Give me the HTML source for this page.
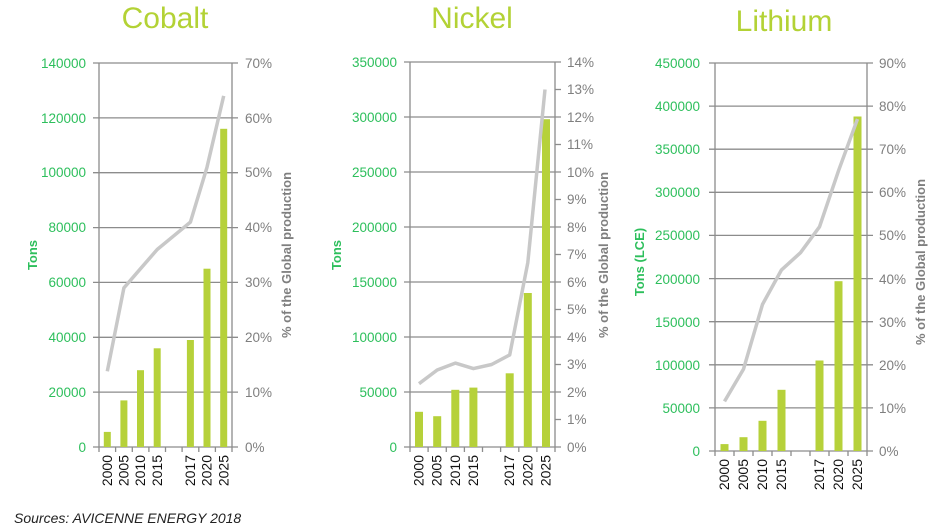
<!DOCTYPE html>
<html><head><meta charset="utf-8"><style>
html,body{margin:0;padding:0;background:#fff;width:938px;height:532px;overflow:hidden}
svg{display:block;font-family:"Liberation Sans",sans-serif}
.t{font-size:30px;fill:#b3d235;text-anchor:middle}
.l{font-size:13.5px;fill:#2dbf5c;text-anchor:end}
.r{font-size:13.5px;fill:#7f7f7f}
.g{stroke:#8c8c8c;stroke-width:1.3}
.b{fill:#b6d13a}
.ln{fill:none;stroke:#c8c8c8;stroke-width:3.5;stroke-linejoin:round}
.y{font-size:14px;fill:#111;text-anchor:end}
.at{font-size:13px;font-weight:bold;fill:#2dbf5c;text-anchor:middle}
.ar{font-size:13px;font-weight:bold;fill:#7f7f7f;text-anchor:middle}
</style></head><body>
<svg width="938" height="532" viewBox="0 0 938 532">
<!-- COBALT -->
<text class="t" x="165" y="28">Cobalt</text>
<g class="g">
<line x1="93" x2="238" y1="447" y2="447"/><line x1="93" x2="238" y1="392.1" y2="392.1"/><line x1="93" x2="238" y1="337.3" y2="337.3"/><line x1="93" x2="238" y1="282.4" y2="282.4"/><line x1="93" x2="238" y1="227.6" y2="227.6"/><line x1="93" x2="238" y1="172.7" y2="172.7"/><line x1="93" x2="238" y1="117.9" y2="117.9"/><line x1="93" x2="238" y1="63" y2="63"/>
<line x1="99" x2="99" y1="63" y2="452"/><line x1="232" x2="232" y1="63" y2="452"/>
<line x1="115.6" x2="115.6" y1="447" y2="452"/><line x1="132.3" x2="132.3" y1="447" y2="452"/><line x1="148.9" x2="148.9" y1="447" y2="452"/><line x1="165.5" x2="165.5" y1="447" y2="452"/><line x1="182.1" x2="182.1" y1="447" y2="452"/><line x1="198.8" x2="198.8" y1="447" y2="452"/><line x1="215.4" x2="215.4" y1="447" y2="452"/>
</g>
<rect class="b" x="103.8" y="431.9" width="7" height="15.1"/><rect class="b" x="120.4" y="400.4" width="7" height="46.6"/><rect class="b" x="137" y="370.2" width="7" height="76.8"/><rect class="b" x="153.7" y="348.3" width="7" height="98.7"/><rect class="b" x="186.9" y="340" width="7" height="107"/><rect class="b" x="203.5" y="268.7" width="7" height="178.3"/><rect class="b" x="220.2" y="128.8" width="7" height="318.2"/>
<polyline class="ln" points="107.3,371.3 123.9,287.9 140.5,268.7 157.2,249.5 173.8,235.8 190.4,222.1 207,167.2 223.7,95.9"/>
<g class="l"><text x="86" y="452">0</text><text x="86" y="397">20000</text><text x="86" y="342">40000</text><text x="86" y="287">60000</text><text x="86" y="232">80000</text><text x="86" y="177">100000</text><text x="86" y="123">120000</text><text x="86" y="68">140000</text></g>
<g class="r"><text x="245" y="452">0%</text><text x="245" y="397">10%</text><text x="245" y="342">20%</text><text x="245" y="287">30%</text><text x="245" y="232">40%</text><text x="245" y="177">50%</text><text x="245" y="123">60%</text><text x="245" y="68">70%</text></g>
<g class="y"><text transform="translate(112,455) rotate(-90)">2000</text><text transform="translate(128.6,455) rotate(-90)">2005</text><text transform="translate(145.2,455) rotate(-90)">2010</text><text transform="translate(161.9,455) rotate(-90)">2015</text><text transform="translate(195.1,455) rotate(-90)">2017</text><text transform="translate(211.7,455) rotate(-90)">2020</text><text transform="translate(228.4,455) rotate(-90)">2025</text></g>
<text class="at" transform="translate(37,255) rotate(-90)">Tons</text>
<text class="ar" transform="translate(291,255) rotate(-90)">% of the Global production</text>

<!-- NICKEL -->
<text class="t" x="472" y="28">Nickel</text>
<g class="g">
<line x1="404" x2="561" y1="447" y2="447"/><line x1="404" x2="561" y1="392" y2="392"/><line x1="404" x2="561" y1="337" y2="337"/><line x1="404" x2="561" y1="282" y2="282"/><line x1="404" x2="561" y1="227" y2="227"/><line x1="404" x2="561" y1="172" y2="172"/><line x1="404" x2="561" y1="117" y2="117"/><line x1="404" x2="561" y1="62" y2="62"/>
<line x1="410" x2="410" y1="62" y2="452"/><line x1="555" x2="555" y1="62" y2="452"/>
<line x1="555" x2="561" y1="89.5" y2="89.5"/><line x1="555" x2="561" y1="144.5" y2="144.5"/><line x1="555" x2="561" y1="199.5" y2="199.5"/><line x1="555" x2="561" y1="254.5" y2="254.5"/><line x1="555" x2="561" y1="309.5" y2="309.5"/><line x1="555" x2="561" y1="364.5" y2="364.5"/><line x1="555" x2="561" y1="419.5" y2="419.5"/>
<line x1="428.1" x2="428.1" y1="447" y2="452"/><line x1="446.3" x2="446.3" y1="447" y2="452"/><line x1="464.4" x2="464.4" y1="447" y2="452"/><line x1="482.5" x2="482.5" y1="447" y2="452"/><line x1="500.6" x2="500.6" y1="447" y2="452"/><line x1="518.8" x2="518.8" y1="447" y2="452"/><line x1="536.9" x2="536.9" y1="447" y2="452"/>
</g>
<rect class="b" x="415" y="411.8" width="8" height="35.2"/><rect class="b" x="433.2" y="416.2" width="8" height="30.8"/><rect class="b" x="451.3" y="389.8" width="8" height="57.2"/><rect class="b" x="469.4" y="387.6" width="8" height="59.4"/><rect class="b" x="505.7" y="373.3" width="8" height="73.7"/><rect class="b" x="523.8" y="293" width="8" height="154"/><rect class="b" x="542" y="119.2" width="8" height="327.8"/>
<polyline class="ln" points="419,383.7 437.2,370 455.3,363.1 473.4,368.6 491.6,364.5 509.7,354.9 527.8,262.7 545,89.5"/>
<g class="l"><text x="397" y="452">0</text><text x="397" y="397">50000</text><text x="397" y="342">100000</text><text x="397" y="287">150000</text><text x="397" y="232">200000</text><text x="397" y="177">250000</text><text x="397" y="122">300000</text><text x="397" y="67">350000</text></g>
<g class="r"><text x="567" y="452">0%</text><text x="567" y="424">1%</text><text x="567" y="397">2%</text><text x="567" y="369">3%</text><text x="567" y="342">4%</text><text x="567" y="314">5%</text><text x="567" y="287">6%</text><text x="567" y="259">7%</text><text x="567" y="232">8%</text><text x="567" y="204">9%</text><text x="567" y="177">10%</text><text x="567" y="149">11%</text><text x="567" y="122">12%</text><text x="567" y="94">13%</text><text x="567" y="67">14%</text></g>
<g class="y"><text transform="translate(423.5,455) rotate(-90)">2000</text><text transform="translate(441.7,455) rotate(-90)">2005</text><text transform="translate(459.8,455) rotate(-90)">2010</text><text transform="translate(477.9,455) rotate(-90)">2015</text><text transform="translate(514.2,455) rotate(-90)">2017</text><text transform="translate(532.3,455) rotate(-90)">2020</text><text transform="translate(550.5,455) rotate(-90)">2025</text></g>
<text class="at" transform="translate(341,255) rotate(-90)">Tons</text>
<text class="ar" transform="translate(608,255) rotate(-90)">% of the Global production</text>

<!-- LITHIUM -->
<text class="t" x="784" y="31">Lithium</text>
<g class="g">
<line x1="709" x2="873" y1="451" y2="451"/><line x1="709" x2="873" y1="407.9" y2="407.9"/><line x1="709" x2="873" y1="364.8" y2="364.8"/><line x1="709" x2="873" y1="321.7" y2="321.7"/><line x1="709" x2="873" y1="278.6" y2="278.6"/><line x1="709" x2="873" y1="235.4" y2="235.4"/><line x1="709" x2="873" y1="192.3" y2="192.3"/><line x1="709" x2="873" y1="149.2" y2="149.2"/><line x1="709" x2="873" y1="106.1" y2="106.1"/><line x1="709" x2="873" y1="63" y2="63"/>
<line x1="715" x2="715" y1="63" y2="456"/><line x1="867" x2="867" y1="63" y2="456"/>
<line x1="734" x2="734" y1="451" y2="456"/><line x1="753" x2="753" y1="451" y2="456"/><line x1="772" x2="772" y1="451" y2="456"/><line x1="791" x2="791" y1="451" y2="456"/><line x1="810" x2="810" y1="451" y2="456"/><line x1="829" x2="829" y1="451" y2="456"/><line x1="848" x2="848" y1="451" y2="456"/>
</g>
<rect class="b" x="720.5" y="444.1" width="8" height="6.9"/><rect class="b" x="739.5" y="437.2" width="8" height="13.8"/><rect class="b" x="758.5" y="420.8" width="8" height="30.2"/><rect class="b" x="777.5" y="389.8" width="8" height="61.2"/><rect class="b" x="815.5" y="360.5" width="8" height="90.5"/><rect class="b" x="834.5" y="281.2" width="8" height="169.8"/><rect class="b" x="853.5" y="116.5" width="8" height="334.5"/>
<polyline class="ln" points="724.5,401.4 743.5,369.1 762.5,304.4 781.5,269.9 800.5,252.7 819.5,226.8 838.5,170.8 857.5,119"/>
<g class="l"><text x="700" y="456">0</text><text x="700" y="413">50000</text><text x="700" y="370">100000</text><text x="700" y="327">150000</text><text x="700" y="284">200000</text><text x="700" y="240">250000</text><text x="700" y="197">300000</text><text x="700" y="154">350000</text><text x="700" y="111">400000</text><text x="700" y="68">450000</text></g>
<g class="r"><text x="879" y="456">0%</text><text x="879" y="413">10%</text><text x="879" y="370">20%</text><text x="879" y="327">30%</text><text x="879" y="284">40%</text><text x="879" y="240">50%</text><text x="879" y="197">60%</text><text x="879" y="154">70%</text><text x="879" y="111">80%</text><text x="879" y="68">90%</text></g>
<g class="y"><text transform="translate(729,459) rotate(-90)">2000</text><text transform="translate(748,459) rotate(-90)">2005</text><text transform="translate(767,459) rotate(-90)">2010</text><text transform="translate(786,459) rotate(-90)">2015</text><text transform="translate(824,459) rotate(-90)">2017</text><text transform="translate(843,459) rotate(-90)">2020</text><text transform="translate(862,459) rotate(-90)">2025</text></g>
<text class="at" transform="translate(644,262) rotate(-90)">Tons (LCE)</text>
<text class="ar" transform="translate(925,262) rotate(-90)">% of the Global production</text>

<text x="14" y="523" style="font-size:14px;font-style:italic;fill:#222">Sources: AVICENNE ENERGY 2018</text>
</svg>
</body></html>
